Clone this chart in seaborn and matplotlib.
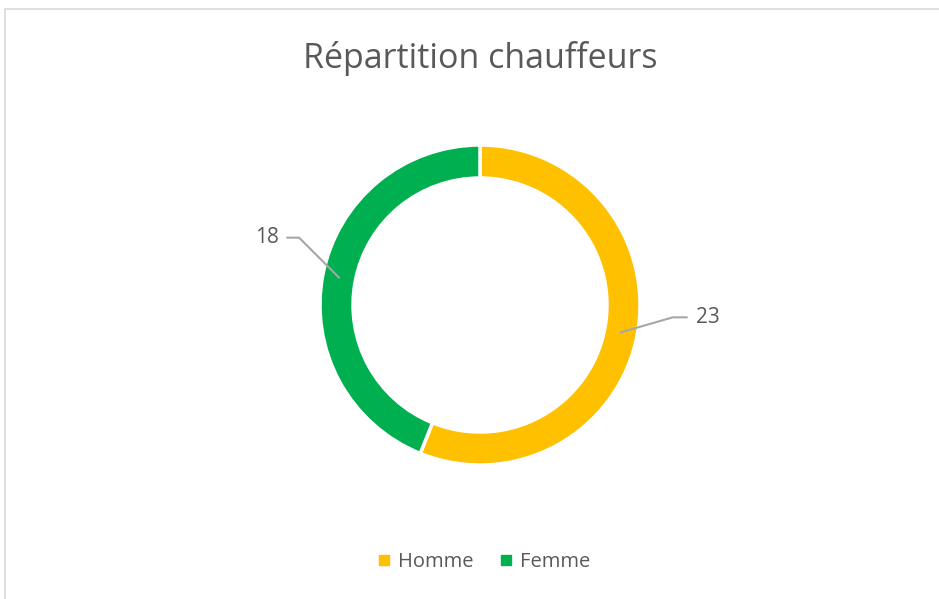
"""Donut chart: répartition chauffeurs."""
import matplotlib
matplotlib.use("Agg")
import matplotlib.pyplot as plt
import numpy as np
import seaborn as sns
from matplotlib.lines import Line2D

categories = ["Homme", "Femme"]
values = [23, 18]
colors = ["#FFC000", "#00B050"]

TEXT = "#595959"
LEADER = "#A6A6A6"

sns.set_style("white")
plt.rcParams["font.family"] = ["Open Sans", "DejaVu Sans"]

W, H = 939, 599
fig = plt.figure(figsize=(W / 100, H / 100), dpi=100)
ax = fig.add_axes([0, 0, 1, 1])
ax.set_xlim(0, W)
ax.set_ylim(0, H)
ax.set_aspect("equal")
ax.axis("off")

cx, cy, r_out, width = 480, H - 305, 160, 33
wedges, _ = ax.pie(
    values, colors=colors, startangle=90, counterclock=False,
    radius=r_out, center=(cx, cy),
    wedgeprops=dict(width=width, edgecolor="white", linewidth=2.5),
)
ax.set_xlim(0, W)
ax.set_ylim(0, H)

# leader lines + value labels
total = sum(values)
start = 90.0
r_mid = r_out - width / 2
for v, side in zip(values, [1, -1]):
    span = v / total * 360
    mid = np.deg2rad(start - span / 2)
    start -= span
    ax0 = cx + r_mid * np.cos(mid)
    ay0 = cy + r_mid * np.sin(mid)
    if side > 0:
        pts = [(ax0, ay0), (ax0 + 52, ay0 + 15), (ax0 + 66, ay0 + 15)]
        tx, ty, ha = ax0 + 75, ay0 + 15, "left"
    else:
        pts = [(ax0, ay0), (ax0 - 40, ay0 + 40), (ax0 - 52, ay0 + 40)]
        tx, ty, ha = ax0 - 60, ay0 + 40, "right"
    xs, ys = zip(*pts)
    ax.plot(xs, ys, color=LEADER, linewidth=1.5, zorder=5)
    ax.text(tx, ty, str(v), ha=ha, va="center", fontsize=15, color=TEXT)

ax.text(cx, H - 58, "Répartition chauffeurs", ha="center", va="center",
        fontsize=24.5, color=TEXT)

# chart border (left / top only visible)
ax.plot([4.5, 4.5, W], [0, H - 8.5, H - 8.5], color="#D9D9D9",
        linewidth=1.2, clip_on=False)

handles = [
    Line2D([], [], marker="s", color=c, linestyle="None", markersize=6.5,
           label=lab)
    for lab, c in zip(categories, colors)
]
leg = ax.legend(handles=handles, loc="center", ncol=2, frameon=False,
                bbox_to_anchor=(481 / W, (H - 562) / H), fontsize=14.5,
                handletextpad=0.1, columnspacing=1.0, handlelength=1.2)
for t in leg.get_texts():
    t.set_color(TEXT)

fig.savefig("out.png", dpi=100)
